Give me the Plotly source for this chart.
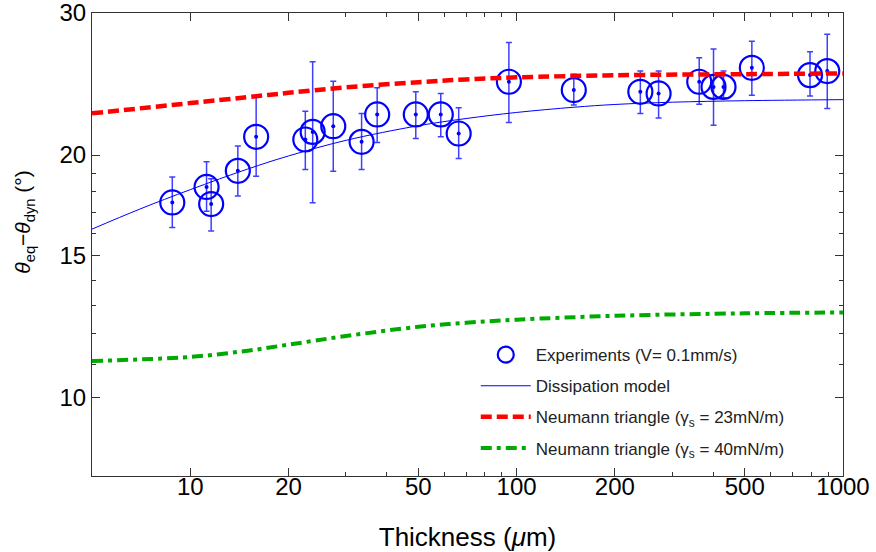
import math
import plotly.graph_objects as go

# ---- Experimental data ----
thickness_um = [8.81, 11.22, 11.59, 13.99, 15.92, 22.52, 23.72, 27.43, 33.5, 37.39, 49.1, 58.56,
                66.45, 94.7, 149.7, 239.4, 272.3, 362.7, 401.2, 430.5, 525.8, 792.6, 895.1]
theta_diff = [17.47, 18.26, 17.39, 19.12, 21.07, 20.91, 21.37, 21.72, 20.77, 22.46, 22.46, 22.46,
              21.27, 24.66, 24.08, 23.96, 23.85, 24.66, 24.30, 24.30, 25.66, 25.13, 25.42]
err_plus = [1.32, 1.36, 1.31, 1.41, 2.59, 1.76, 4.73, 2.98, 1.75, 1.78, 1.50, 1.39,
            1.62, 2.93, 1.12, 1.46, 1.57, 1.74, 2.77, 1.12, 2.03, 1.73, 2.83]
err_minus = [1.20, 1.22, 1.29, 1.32, 2.24, 1.72, 3.92, 2.62, 1.58, 1.73, 1.49, 1.39,
             1.46, 2.71, 1.01, 1.44, 1.61, 1.54, 2.52, 0.74, 1.93, 1.45, 2.57]

# ---- Model curves ----
dissip_x = [5, 7, 10, 15, 20, 30, 50, 70, 100, 150, 200, 300, 500, 1000]
dissip_y = [16.19, 17.14, 18.12, 19.22, 19.95, 20.86, 21.75, 22.20, 22.59, 22.93, 23.11, 23.26, 23.36, 23.43]

neu23_x = [5, 10, 15, 20, 30, 50, 70, 100, 200, 500, 1000]
neu23_y = [22.53, 23.20, 23.60, 23.89, 24.27, 24.63, 24.82, 24.97, 25.12, 25.20, 25.25]

neu40_x = [5, 10, 15, 20, 30, 50, 70, 100, 200, 500, 1000]
neu40_y = [11.11, 11.24, 11.44, 11.64, 11.93, 12.25, 12.39, 12.50, 12.64, 12.73, 12.76]

x_ticks = [10, 20, 50, 100, 200, 500, 1000]
x_minor = [30, 40, 60, 70, 80, 90, 300, 400, 600, 700, 800, 900]
y_ticks = [10, 15, 20, 30]
y_minor = [11, 12, 13, 14, 16, 17, 18, 19]

BLUE = "#0000ff"
RED = "#ff0000"
GREEN = "#00aa00"
AXIS = "#333333"

fig = go.Figure()

fig.add_trace(go.Scatter(
    x=thickness_um, y=theta_diff, mode="markers",
    name="Experiments (V= 0.1mm/s)", legendgroup="a",
    marker=dict(symbol="circle-open", size=24, color=BLUE, line=dict(width=2.2, color=BLUE)),
    error_y=dict(type="data", symmetric=False, array=err_plus, arrayminus=err_minus,
                 color="#3f3fff", thickness=1.5, width=3),
))
fig.add_trace(go.Scatter(
    x=thickness_um, y=theta_diff, mode="markers", showlegend=False, legendgroup="a",
    marker=dict(symbol="circle", size=4, color=BLUE),
))
fig.add_trace(go.Scatter(
    x=dissip_x, y=dissip_y, mode="lines", name="Dissipation model", legendgroup="b",
    line=dict(color=BLUE, width=1, shape="spline"),
))
fig.add_trace(go.Scatter(
    x=neu23_x, y=neu23_y, mode="lines", name="Neumann triangle (γ<sub>s</sub> = 23mN/m)",
    legendgroup="c",
    line=dict(color=RED, width=4.5, dash="11px,5px", shape="spline"),
))
fig.add_trace(go.Scatter(
    x=neu40_x, y=neu40_y, mode="lines", name="Neumann triangle (γ<sub>s</sub> = 40mN/m)",
    legendgroup="d",
    line=dict(color=GREEN, width=4, dash="11px,5px,4px,5px", shape="spline"),
))

axis_common = dict(
    type="log", showline=True, linecolor=AXIS, linewidth=1, mirror="ticks",
    ticks="inside", ticklen=8, tickwidth=1, tickcolor=AXIS,
    showgrid=False, zeroline=False, automargin=False,
    ticklabeloverflow="allow",
    tickfont=dict(size=24, color="black"),
)

fig.update_xaxes(
    **axis_common,
    range=[math.log10(5), math.log10(1000) + 1e-4],
    tickmode="array", tickvals=x_ticks, ticktext=[str(v) for v in x_ticks],
    ticklabelstandoff=-11,
    minor=dict(tickmode="array", tickvals=x_minor, ticks="inside", ticklen=4,
               tickcolor=AXIS, tickwidth=1, showgrid=False),
    title=dict(text="Thickness (<i>μ</i>m)", font=dict(size=26, color="black"), standoff=32),
)
fig.update_yaxes(
    **axis_common,
    range=[math.log10(8), math.log10(30) + 1e-4],
    tickmode="array", tickvals=y_ticks, ticktext=[str(v) for v in y_ticks],
    minor=dict(tickmode="array", tickvals=y_minor, ticks="inside", ticklen=4,
               tickcolor=AXIS, tickwidth=1, showgrid=False),
)

fig.add_annotation(
    text="<i>θ</i><sub>eq</sub>−<i>θ</i><sub>dyn</sub> (°)",
    xref="paper", yref="paper", x=-0.09, y=0.548, textangle=-90,
    showarrow=False, font=dict(size=21, color="black"),
    xanchor="center", yanchor="middle",
)

fig.update_layout(
    width=876, height=552,
    margin=dict(l=92, r=33, t=13, b=76),
    paper_bgcolor="white", plot_bgcolor="white",
    font=dict(family="Arial, 'Liberation Sans', sans-serif", color="black"),
    legend=dict(x=0.511, y=0.3, xanchor="left", yanchor="top",
                font=dict(size=17, color="#222222"), bgcolor="rgba(0,0,0,0)",
                itemwidth=50, traceorder="grouped", tracegroupgap=6),
    showlegend=True,
)

fig.write_html("out.html", config={"displayModeBar": False},
               post_script="document.body.style.margin='0px';")
